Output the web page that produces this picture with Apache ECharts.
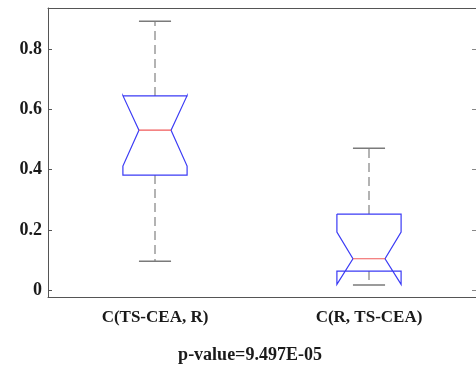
<!DOCTYPE html>
<html>
<head>
<meta charset="utf-8">
<script src="https://cdn.jsdelivr.net/npm/echarts@6/dist/echarts.min.js"></script>
<style>
  html, body { margin: 0; padding: 0; background: #fff; }
  #chart { width: 476px; height: 370px; }
</style>
</head>
<body>
<div id="chart"></div>
<script>
// box statistics
var categories = ['C(TS-CEA, R)', 'C(R, TS-CEA)'];
var lowerWhisker = [0.096, 0.017];
var q1 = [0.382, 0.063];
var notchLow = [0.412, 0.019];
var median = [0.531, 0.104];
var notchHigh = [0.646, 0.193];
var q3 = [0.645, 0.2525];
var upperWhisker = [0.893, 0.471];
var yTicks = [0, 0.2, 0.4, 0.6, 0.8];
var pValueText = 'p-value=9.497E-05';

var FONT = '"Liberation Serif", "Times New Roman", serif';

var boxData = categories.map(function (c, i) {
  return [i, lowerWhisker[i], q1[i], notchLow[i], median[i], notchHigh[i], q3[i], upperWhisker[i]];
});

function renderBox(params, api) {
  var idx = api.value(0);
  var band = api.size([1, 0])[0];
  var half = band * 0.15;   // box half width
  var nh = band * 0.075;    // notch / cap half width
  var p = function (v) { return api.coord([idx, v]); };
  var cx = p(api.value(4))[0];
  var yLw = p(api.value(1))[1], yQ1 = p(api.value(2))[1], yNl = p(api.value(3))[1];
  var yMed = p(api.value(4))[1], yNh = p(api.value(5))[1], yQ3 = p(api.value(6))[1];
  var yUw = p(api.value(7))[1];
  var L = cx - half, R = cx + half;
  var whisk = { stroke: '#9a9a9a', lineWidth: 1.5, lineDash: [9, 5] };
  var cap = { stroke: '#7a7a7a', lineWidth: 1.5 };
  return {
    type: 'group',
    children: [
      { type: 'line', shape: { x1: cx, y1: yQ3, x2: cx, y2: yUw }, style: whisk },
      { type: 'line', shape: { x1: cx, y1: yQ1, x2: cx, y2: yLw }, style: whisk },
      { type: 'line', shape: { x1: cx - nh, y1: yUw, x2: cx + nh, y2: yUw }, style: cap },
      { type: 'line', shape: { x1: cx - nh, y1: yLw, x2: cx + nh, y2: yLw }, style: cap },
      {
        type: 'polyline',
        shape: {
          points: [
            [L, yQ3], [L, yNh], [cx - nh, yMed], [L, yNl], [L, yQ1],
            [R, yQ1], [R, yNl], [cx + nh, yMed], [R, yNh], [R, yQ3], [L, yQ3]
          ]
        },
        style: { stroke: '#3b3bf5', lineWidth: 1.2, fill: null }
      },
      { type: 'line', shape: { x1: cx - nh, y1: yMed, x2: cx + nh, y2: yMed }, style: { stroke: '#f05a5a', lineWidth: 1.2 } }
    ]
  };
}

var chart = echarts.init(document.getElementById('chart'));
var option = {
  animation: false,
  grid: { left: 48, top: 8, width: 430, height: 289 },
  xAxis: [
    {
      type: 'category',
      data: categories,
      position: 'bottom',
      axisLine: { onZero: false, lineStyle: { color: '#555', width: 1 } },
      axisTick: { inside: true, alignWithLabel: true, length: 4, lineStyle: { color: '#999' } },
      axisLabel: { color: '#1a1a1a', fontFamily: FONT, fontWeight: 'bold', fontSize: 17, margin: 12 },
      splitLine: { show: false }
    },
    {
      type: 'category',
      data: categories,
      position: 'top',
      axisLine: { onZero: false, lineStyle: { color: '#555', width: 1 } },
      axisTick: { inside: true, alignWithLabel: true, length: 4, lineStyle: { color: '#aaa' } },
      axisLabel: { show: false }
    }
  ],
  yAxis: [
    {
      type: 'value',
      min: -0.023,
      max: 0.937,
      position: 'left',
      axisLine: { show: true, onZero: false, lineStyle: { color: '#555', width: 1 } },
      axisTick: { show: true, inside: true, length: 4, customValues: yTicks, lineStyle: { color: '#555' } },
      axisLabel: {
        customValues: yTicks,
        color: '#1a1a1a', fontFamily: FONT, fontWeight: 'bold', fontSize: 18, margin: 6,
        formatter: function (v) { return v === 0 ? '0' : String(+v.toFixed(1)); }
      },
      splitLine: { show: false }
    },
    {
      type: 'value',
      min: -0.023,
      max: 0.937,
      position: 'right',
      axisLine: { show: true, onZero: false, lineStyle: { color: '#555', width: 1 } },
      axisTick: { show: true, inside: true, length: 4, customValues: yTicks, lineStyle: { color: '#888' } },
      axisLabel: { show: false },
      splitLine: { show: false }
    }
  ],
  graphic: [
    {
      type: 'text',
      x: 250, y: 346,
      style: {
        text: pValueText, fill: '#1a1a1a', fontFamily: FONT, fontWeight: 'bold', fontSize: 18,
        textAlign: 'center', textVerticalAlign: 'top'
      }
    }
  ],
  series: [
    {
      type: 'custom',
      renderItem: renderBox,
      data: boxData,
      encode: { x: 0, y: [1, 2, 3, 4, 5, 6, 7] },
      clip: false
    }
  ]
};
chart.setOption(option);
</script>
</body>
</html>
